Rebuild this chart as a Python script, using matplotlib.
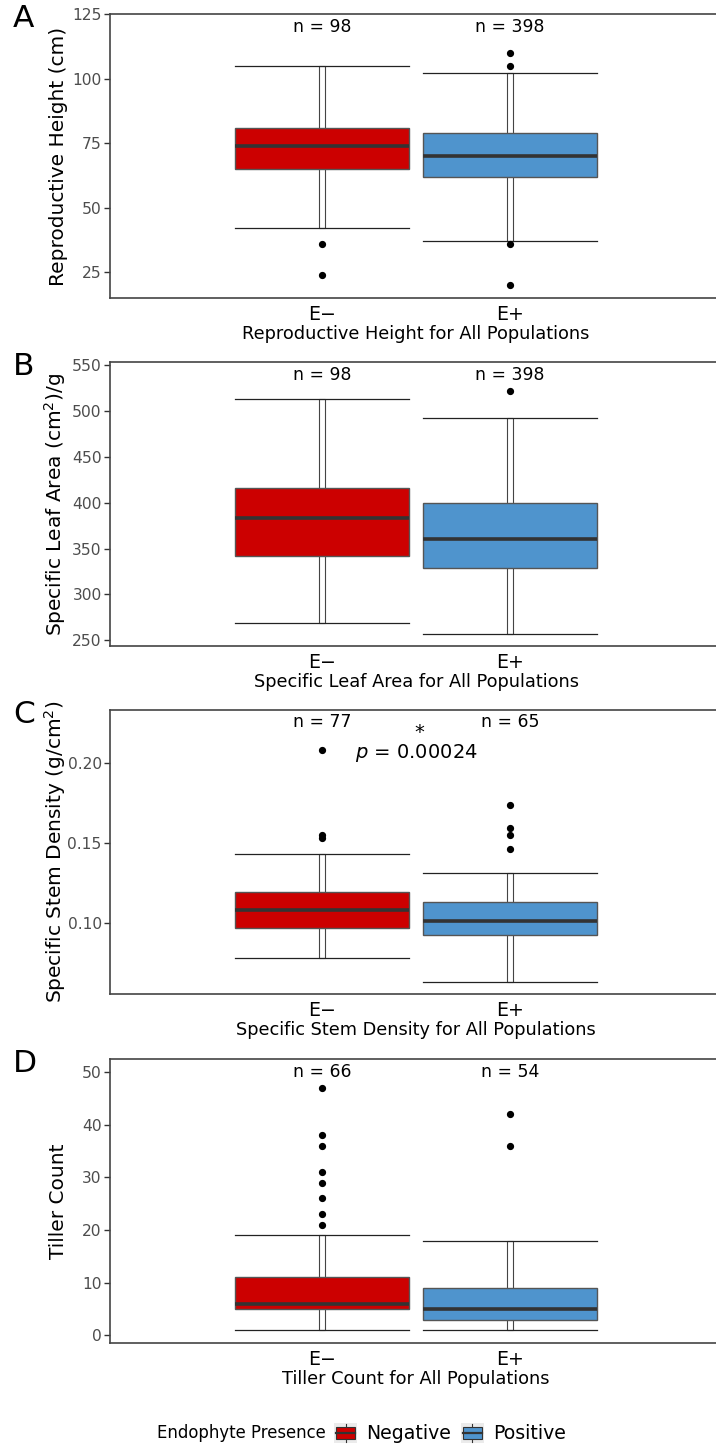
import matplotlib.pyplot as plt
from matplotlib.legend_handler import HandlerBase
from matplotlib.patches import Rectangle, Patch
from matplotlib.lines import Line2D

plt.rcParams['font.family'] = ['DejaVu Sans']
plt.rcParams['mathtext.default'] = 'regular'

groups = ['E\u2212', 'E+']
positions = [1, 2]
fills = ['#CC0000', '#4F94CD']
legend_labels = ['Negative', 'Positive']

# A: reproductive height (cm)
rh_lo = [42, 37]
rh_q1 = [65, 62]
rh_med = [74, 70]
rh_q3 = [81, 79]
rh_hi = [105, 102]
rh_out = [[36, 24], [110, 105, 36, 20]]
rh_n = [98, 398]

# B: specific leaf area
sla_lo = [269, 257]
sla_q1 = [342, 329]
sla_med = [384, 361]
sla_q3 = [416, 400]
sla_hi = [513, 493]
sla_out = [[], [522]]
sla_n = [98, 398]

# C: specific stem density
ssd_lo = [0.0781, 0.0635]
ssd_q1 = [0.0973, 0.0925]
ssd_med = [0.1085, 0.1013]
ssd_q3 = [0.1196, 0.1131]
ssd_hi = [0.1433, 0.1315]
ssd_out = [[0.2083, 0.1548, 0.1535], [0.1740, 0.1594, 0.1548, 0.1463]]
ssd_n = [77, 65]

# D: tiller count
tc_lo = [1, 1]
tc_q1 = [5, 3]
tc_med = [6, 5]
tc_q3 = [11, 9]
tc_hi = [19, 18]
tc_out = [[47, 38, 36, 31, 29, 26, 23, 21], [42, 36]]
tc_n = [66, 54]

panels = [
    dict(letter='A', lo=rh_lo, q1=rh_q1, med=rh_med, q3=rh_q3, hi=rh_hi, out=rh_out, n=rh_n,
         n_y=120, ylim=(15, 125), yticks=[25, 50, 75, 100, 125], fmt='{:g}',
         ylabel='Reproductive Height (cm)', xlabel='Reproductive Height for All Populations'),
    dict(letter='B', lo=sla_lo, q1=sla_q1, med=sla_med, q3=sla_q3, hi=sla_hi, out=sla_out, n=sla_n,
         n_y=540, ylim=(243.8, 553.7), yticks=[250, 300, 350, 400, 450, 500, 550], fmt='{:g}',
         ylabel='Specific Leaf Area (cm$^2$)/g', xlabel='Specific Leaf Area for All Populations'),
    dict(letter='C', lo=ssd_lo, q1=ssd_q1, med=ssd_med, q3=ssd_q3, hi=ssd_hi, out=ssd_out, n=ssd_n,
         n_y=0.2256, ylim=(0.0558, 0.2331), yticks=[0.10, 0.15, 0.20], fmt='{:.2f}',
         ylabel='Specific Stem Density (g/cm$^2$)', xlabel='Specific Stem Density for All Populations'),
    dict(letter='D', lo=tc_lo, q1=tc_q1, med=tc_med, q3=tc_q3, hi=tc_hi, out=tc_out, n=tc_n,
         n_y=50, ylim=(-1.46, 52.47), yticks=[0, 10, 20, 30, 40, 50], fmt='{:g}',
         ylabel='Tiller Count', xlabel='Tiller Count for All Populations'),
]

W, H = 716, 1446
fig = plt.figure(figsize=(W / 100, H / 100), dpi=100)
tops = [14, 362, 710, 1059]
ax_h = 284
ax_left, ax_w = 110, 612
box_w = 0.925

for p, top in zip(panels, tops):
    ax = fig.add_axes([ax_left / W, 1 - (top + ax_h) / H, ax_w / W, ax_h / H])

    # whisker drawn as narrow white bar (double line look)
    for x, lo, hi in zip(positions, p['lo'], p['hi']):
        ax.bar(x, hi - lo, bottom=lo, width=0.037, facecolor='white',
               edgecolor='#444444', linewidth=0.8, zorder=1)

    stats = []
    for i in range(2):
        stats.append(dict(med=p['med'][i], q1=p['q1'][i], q3=p['q3'][i],
                          whislo=p['lo'][i], whishi=p['hi'][i], fliers=p['out'][i]))
    bp = ax.bxp(stats, positions=positions, widths=box_w, capwidths=box_w,
                patch_artist=True, manage_ticks=False,
                boxprops=dict(edgecolor='#555555', linewidth=1.0),
                medianprops=dict(color='#333333', linewidth=2.6, solid_capstyle='butt'),
                whiskerprops=dict(linestyle='none'),
                capprops=dict(color='#222222', linewidth=0.9),
                flierprops=dict(marker='o', markerfacecolor='black', markeredgecolor='black',
                                markersize=4.2, linestyle='none'))
    for patch, c in zip(bp['boxes'], fills):
        patch.set_facecolor(c)
        patch.set_zorder(2)
    for m in bp['medians']:
        m.set_zorder(3)

    for x, n in zip(positions, p['n']):
        ax.text(x, p['n_y'], f'n = {n}', ha='center', va='center', fontsize=12.4)

    ax.set_xlim(-0.128, 3.128)
    ax.set_ylim(*p['ylim'])
    ax.set_xticks(positions)
    ax.set_xticklabels(groups)
    ax.set_yticks(p['yticks'])
    ax.set_yticklabels([p['fmt'].format(v) for v in p['yticks']])
    ax.tick_params(axis='x', length=0, labelsize=13.7, pad=5)
    ax.tick_params(axis='y', length=4, width=1, color='#333333', labelcolor='#4D4D4D',
                   labelsize=11.2, pad=2)
    for s in ax.spines.values():
        s.set_color('#444444')
        s.set_linewidth(1.2)

    ax.set_ylabel(p['ylabel'], fontsize=14.5)
    ax.yaxis.set_label_coords(-0.0686, 0.5)
    ax.set_xlabel(p['xlabel'], fontsize=12.8)
    ax.xaxis.set_label_coords(0.5, -0.095)

    fig.text(13 / W, 1 - (top - 10) / H, p['letter'], fontsize=22.5, va='top', ha='left')

    if p['letter'] == 'C':
        ax.text(1.52, 0.2190, '*', ha='center', va='center', fontsize=14)
        ax.text(1.5, 0.2063, '$\\mathit{p}$ = 0.00024', ha='center', va='center', fontsize=14)


class BoxKey(HandlerBase):
    def create_artists(self, legend, orig, xd, yd, w, h, fs, trans):
        x0, y0 = -xd, -yd
        bg = Rectangle((x0, y0), w, h, facecolor='#EBEBEB', edgecolor='none', transform=trans)
        wl1 = Line2D([x0 + w / 2] * 2, [y0 + 0.05 * h, y0 + 0.2 * h], color='#333333', lw=0.8, transform=trans)
        wl2 = Line2D([x0 + w / 2] * 2, [y0 + 0.8 * h, y0 + 0.95 * h], color='#333333', lw=0.8, transform=trans)
        box = Rectangle((x0 + 0.1 * w, y0 + 0.2 * h), 0.8 * w, 0.6 * h,
                        facecolor=orig.get_facecolor(), edgecolor='#333333', lw=0.8, transform=trans)
        med = Line2D([x0 + 0.1 * w, x0 + 0.9 * w], [y0 + h / 2] * 2, color='#333333', lw=1.6, transform=trans)
        return [bg, wl1, wl2, box, med]


handles = [Patch(facecolor=c) for c in fills]
fig.text(157 / W, 1 - 1433 / H, 'Endophyte Presence', fontsize=11.9, va='center', ha='left')
fig.legend(handles, legend_labels, loc='center left', bbox_to_anchor=(334 / W, 1 - 1433 / H),
           ncol=2, frameon=False, borderpad=0, borderaxespad=0, fontsize=13.6,
           handlelength=1.22, handleheight=1.22, handletextpad=0.5, columnspacing=0.5,
           handler_map={Patch: BoxKey()})

fig.savefig('out.png', dpi=100)
